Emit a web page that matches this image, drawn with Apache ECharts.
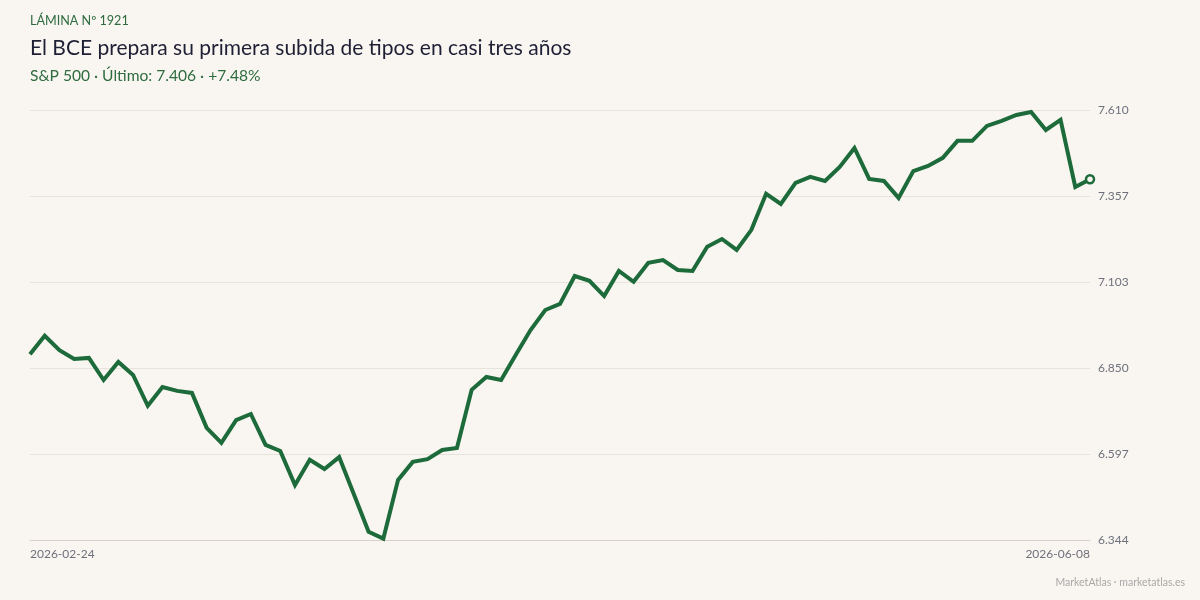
<!DOCTYPE html>
<html>
<head>
<meta charset="utf-8">
<script src="https://cdn.jsdelivr.net/npm/echarts@6/dist/echarts.min.js"></script>
<style>
  html, body { margin: 0; padding: 0; background: #f9f6f1; }
  #chart { width: 1200px; height: 600px; }
</style>
</head>
<body>
<div id="chart"></div>
<script>
var dates = [
  '2026-02-24','2026-02-25','2026-02-26','2026-02-27',
  '2026-03-02','2026-03-03','2026-03-04','2026-03-05','2026-03-06',
  '2026-03-09','2026-03-10','2026-03-11','2026-03-12','2026-03-13',
  '2026-03-16','2026-03-17','2026-03-18','2026-03-19','2026-03-20',
  '2026-03-23','2026-03-24','2026-03-25','2026-03-26','2026-03-27',
  '2026-03-30','2026-03-31','2026-04-01','2026-04-02',
  '2026-04-06','2026-04-07','2026-04-08','2026-04-09','2026-04-10',
  '2026-04-13','2026-04-14','2026-04-15','2026-04-16','2026-04-17',
  '2026-04-20','2026-04-21','2026-04-22','2026-04-23','2026-04-24',
  '2026-04-27','2026-04-28','2026-04-29','2026-04-30','2026-05-01',
  '2026-05-04','2026-05-05','2026-05-06','2026-05-07','2026-05-08',
  '2026-05-11','2026-05-12','2026-05-13','2026-05-14','2026-05-15',
  '2026-05-18','2026-05-19','2026-05-20','2026-05-21','2026-05-22',
  '2026-05-26','2026-05-27','2026-05-28','2026-05-29',
  '2026-06-01','2026-06-02','2026-06-03','2026-06-04','2026-06-05',
  '2026-06-08'
];
var closes = [
  6891, 6945, 6903, 6877, 6880, 6815, 6868, 6830, 6739, 6794,
  6783, 6777, 6674, 6630, 6697, 6715, 6624, 6606, 6506, 6580,
  6553, 6588, 6479, 6368, 6348, 6521, 6574, 6582, 6609, 6615,
  6786, 6824, 6815, 6889, 6962, 7021, 7039, 7121, 7107, 7062,
  7136, 7104, 7160, 7168, 7139, 7136, 7207, 7230, 7198, 7257,
  7363, 7333, 7395, 7413, 7401, 7442, 7498, 7407, 7401, 7351,
  7430, 7445, 7469, 7519, 7519, 7563, 7578, 7595, 7604, 7551,
  7581, 7383, 7406
];
// axis extent (labels read: 6.344, 6.597, 6.850, 7.103, 7.357, 7.610)
var yMin = 6344.0;
var yMax = 7609.75;
var ySplits = 5;

var GREEN = '#1d6a3a';
var BG = '#f9f6f1';

function fmt(v) {
  var s = String(Math.round(v));
  return s.replace(/\B(?=(\d{3})+(?!\d))/g, '.');
}

var seriesData = closes.map(function (v, i) {
  if (i === closes.length - 1) {
    return { value: v, symbol: 'circle', symbolSize: 8,
      itemStyle: { color: BG, borderColor: GREEN, borderWidth: 2.5 } };
  }
  return v;
});

var chart = echarts.init(document.getElementById('chart'), null, { renderer: 'canvas' });
chart.setOption({
  backgroundColor: BG,
  animation: false,
  textStyle: { fontFamily: 'Lato' },
  title: [
    { text: 'LÁMINA Nº 1921', left: 30, top: 14, padding: 0,
      textStyle: { fontFamily: 'Lato', fontSize: 12.6, fontWeight: 'normal', color: '#2e6b3e' } },
    { text: 'El BCE prepara su primera subida de tipos en casi tres años', left: 30, top: 38, padding: 0,
      textStyle: { fontFamily: 'Lato', fontSize: 21, fontWeight: 'normal', color: '#1f2035' } },
    { text: 'S&P 500 · Último: 7.406 · +7.48%', left: 30, top: 68, padding: 0,
      textStyle: { fontFamily: 'Lato', fontSize: 15.6, fontWeight: 'normal', color: '#2e6b3e' } },
    { text: 'MarketAtlas · marketatlas.es', right: 15, top: 577, padding: 0,
      textStyle: { fontFamily: 'Lato', fontSize: 10.5, fontWeight: 'normal', color: '#a8a8a8' } }
  ],
  grid: { left: 30, right: 110, top: 110, bottom: 60, containLabel: false },
  xAxis: {
    type: 'category',
    data: dates,
    boundaryGap: false,
    axisLine: { show: true, lineStyle: { color: '#d8d2c6', width: 1 } },
    axisTick: { show: false },
    splitLine: { show: false },
    axisLabel: {
      color: '#6e717c', fontFamily: 'Lato', fontSize: 12, margin: 8,
      interval: function (idx) { return idx === 0 || idx === dates.length - 1; },
      alignMinLabel: 'left', alignMaxLabel: 'right',
      showMinLabel: true, showMaxLabel: true
    }
  },
  yAxis: {
    type: 'value',
    position: 'right',
    min: yMin, max: yMax,
    interval: (yMax - yMin) / ySplits,
    axisLine: { show: false },
    axisTick: { show: false },
    splitLine: { show: true, lineStyle: { color: '#e8e3da', width: 1 } },
    axisLabel: {
      color: '#6e717c', fontFamily: 'Lato', fontSize: 12, margin: 8,
      formatter: function (v) { return fmt(v); }
    }
  },
  series: [{
    type: 'line',
    data: seriesData,
    symbol: 'none',
    showSymbol: true,
    lineStyle: { color: GREEN, width: 4, join: 'miter' },
    itemStyle: { color: GREEN },
    z: 3
  }]
});
</script>
</body>
</html>
